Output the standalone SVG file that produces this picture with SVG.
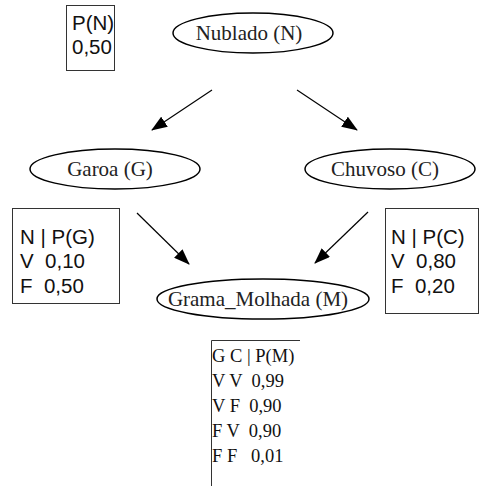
<svg xmlns="http://www.w3.org/2000/svg" width="480" height="486" viewBox="0 0 480 486">
<defs>
<marker id="ah" markerWidth="16" markerHeight="12" refX="15" refY="6" orient="auto" markerUnits="userSpaceOnUse">
<path d="M0,0 L16,6 L0,12 Z" fill="#000"/>
</marker>
<style>
.node ellipse{fill:#fff;stroke:#000;stroke-width:1.5}
.lbl{font-family:"Liberation Serif","Times New Roman",serif;font-size:21px;fill:#222;text-anchor:middle}
.tbl{fill:#fff;stroke:#333;stroke-width:1}
.sans{font-family:"Liberation Sans",Arial,sans-serif;font-size:20.5px;fill:#111}
.serif{font-family:"Liberation Serif","Times New Roman",serif;font-size:18.5px;fill:#111}
.edge{stroke:#000;stroke-width:1.2;fill:none;marker-end:url(#ah)}
</style>
</defs>
<g id="table-N">
<rect class="tbl" x="66.5" y="5.5" width="48" height="65"/>
<text class="sans" x="72" y="30">P(N)</text>
<text class="sans" x="72" y="54">0,50</text>
</g>
<g id="node-N" class="node">
<ellipse cx="253" cy="33" rx="80" ry="20"/>
<text class="lbl" x="249" y="40">Nublado (N)</text>
</g>
<g id="node-G" class="node">
<ellipse cx="115" cy="169" rx="85" ry="20"/>
<text class="lbl" x="110" y="176">Garoa (G)</text>
</g>
<g id="node-C" class="node">
<ellipse cx="390" cy="169" rx="85" ry="20"/>
<text class="lbl" x="385" y="176">Chuvoso (C)</text>
</g>
<g id="table-G">
<rect class="tbl" x="12.5" y="208.5" width="107" height="95"/>
<text class="sans" x="20" y="244" xml:space="preserve">N | P(G)</text>
<text class="sans" x="20" y="268" xml:space="preserve">V  0,10</text>
<text class="sans" x="20" y="293" xml:space="preserve">F  0,50</text>
</g>
<g id="table-C">
<rect class="tbl" x="385.5" y="208.5" width="93" height="105"/>
<text class="sans" x="391" y="244" xml:space="preserve">N | P(C)</text>
<text class="sans" x="391" y="268" xml:space="preserve">V  0,80</text>
<text class="sans" x="391" y="293" xml:space="preserve">F  0,20</text>
</g>
<g id="node-M" class="node">
<ellipse cx="263" cy="299" rx="106" ry="20"/>
<text class="lbl" x="258" y="306">Grama_Molhada (M)</text>
</g>
<g id="table-M">
<path d="M211.5,486 V340.5 H300" stroke="#333" stroke-width="1" fill="none"/>
<text class="serif" x="212" y="362" xml:space="preserve">G C | P(M)</text>
<text class="serif" x="212" y="387" xml:space="preserve">V V  0,99</text>
<text class="serif" x="212" y="412" xml:space="preserve">V F  0,90</text>
<text class="serif" x="212" y="437" xml:space="preserve">F V  0,90</text>
<text class="serif" x="212" y="462" xml:space="preserve">F F   0,01</text>
</g>
<g id="connectors">
<line class="edge" x1="212" y1="90" x2="152" y2="130"/>
<line class="edge" x1="297" y1="90" x2="357" y2="130"/>
<line class="edge" x1="137" y1="213" x2="189" y2="264"/>
<line class="edge" x1="368" y1="212" x2="315" y2="263"/>
</g>
</svg>
